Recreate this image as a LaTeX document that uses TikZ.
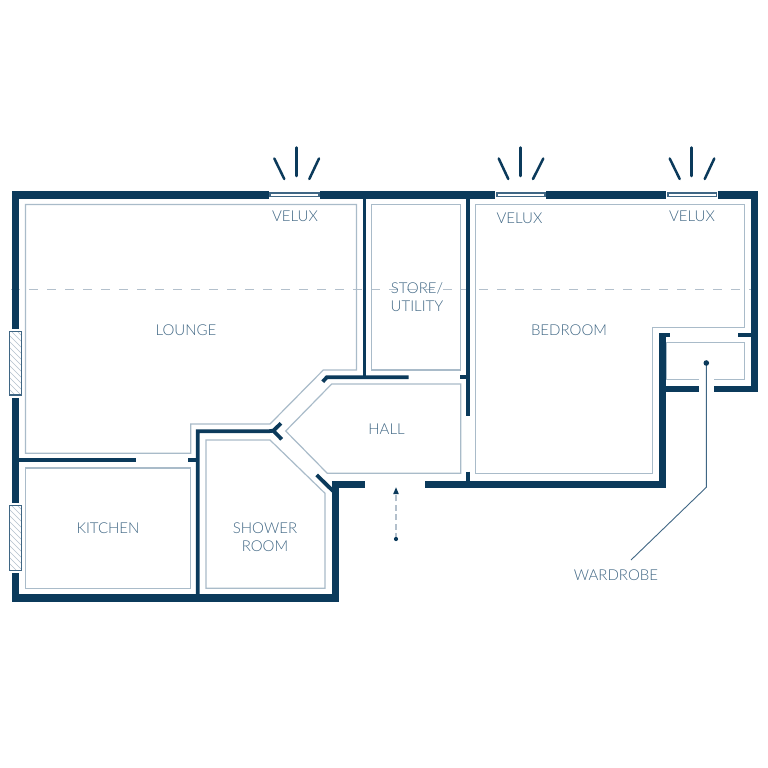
\documentclass[tikz,border=0pt]{standalone}
\usepackage{fontspec}
\setmainfont{Lato}[UprightFont=* Light]
\definecolor{wallc}{HTML}{0B3A5B}
\definecolor{roomc}{HTML}{A9BBC9}
\definecolor{dashc}{HTML}{B3C0CC}
\definecolor{textc}{HTML}{3F6684}
\tikzset{
  x=1pt,y=-1pt,
  wallfill/.style={fill=wallc,draw=none},
  thinwall/.style={draw=wallc,line width=3.8pt},
  roomline/.style={draw=roomc,line width=1.2pt,line join=miter},
  winbox/.style={draw=textc,line width=1.1pt,fill=white},
  ray/.style={draw=wallc,line width=2.5pt,line cap=round},
  ridge/.style={draw=dashc,line width=1.3pt,dash pattern=on 8.7pt off 9.3pt},
  lab/.style={text=textc,font=\fontsize{15}{18}\selectfont,align=center,inner sep=0pt},
  leader/.style={draw=textc,line width=0.9pt},
}
\newcommand{\rays}[7]{%
  \draw[ray] (#2,158.5) -- (#3,179);
  \draw[ray] (#1,147.5) -- (#1,176);
  \draw[ray] (#4,158.5) -- (#5,179);
}
\begin{document}
\begin{tikzpicture}
\useasboundingbox (0,0) rectangle (768,768);
\fill[white] (0,0) rectangle (768,768);
% ridge line
\draw[ridge] (11,289.3) -- (751,289.3);
% room outlines
\draw[roomline] (25.5,204.5) -- (356.5,204.5) -- (356.5,370) -- (323.3,370) -- (270,424) -- (190.7,424) -- (190.7,453.3) -- (25.5,453.3) -- cycle;
\draw[roomline] (25.5,468) rectangle (190.7,588.3);
\draw[roomline] (206,440) -- (270,440) -- (325,493.3) -- (325,588.3) -- (206,588.3) -- cycle;
\draw[roomline] (331.7,384) -- (460.7,384) -- (460.7,473.3) -- (327.3,473.3) -- (285.7,431) -- cycle;
\draw[roomline] (371.3,204.5) rectangle (460.7,370);
\draw[roomline] (475.3,204.5) -- (744.3,204.5) -- (744.3,327.3) -- (652.3,327.3) -- (652.3,473.3) -- (475.3,473.3) -- cycle;
\draw[roomline] (698.7,379.3) -- (666.7,379.3) -- (666.7,342.3) -- (744.3,342.3) -- (744.3,379.3) -- (714,379.3);
% outer walls
\fill[wallfill] (11.7,191) rectangle (269,198.7);
\fill[wallfill] (320,191) rectangle (495,198.7);
\fill[wallfill] (546.3,191) rectangle (666,198.7);
\fill[wallfill] (718,191) rectangle (757.7,198.7);
\fill[wallfill] (11.7,191) rectangle (19.3,329);
\fill[wallfill] (11.7,397.7) rectangle (19.3,503.3);
\fill[wallfill] (11.7,572.7) rectangle (19.3,601.7);
\fill[wallfill] (11.7,594.3) rectangle (338.7,601.7);
\fill[wallfill] (331.7,481) rectangle (338.7,601.7);
\fill[wallfill] (331.7,480.7) rectangle (365.3,488);
\fill[wallfill] (425,480.7) rectangle (666.3,488);
\fill[wallfill] (659,333.3) rectangle (666.3,488);
\fill[wallfill] (659,385.7) rectangle (698.7,392.3);
\fill[wallfill] (714,385.7) rectangle (757.7,392.3);
\fill[wallfill] (750.7,191) rectangle (757.7,392.3);
% inner walls
\draw[thinwall] (659,335.1) -- (670,335.1);
\draw[thinwall] (738.3,335.1) -- (751,335.1);
\draw[thinwall] (364.5,195) -- (364.5,378);
\draw[thinwall] (467.8,195) -- (467.8,416);
\draw[thinwall] (467.8,471.7) -- (467.8,482);
\draw[thinwall] (460,377.3) -- (468,377.3);
\draw[thinwall] (322.7,381.7) -- (326.9,377.2) -- (408.7,377.2);
\draw[thinwall] (197.7,598) -- (197.7,431.3) -- (268,431.3) -- (273.3,430.7);
\draw[thinwall] (281,423.3) -- (273.3,430.7) -- (281.7,439.3);
\draw[thinwall] (19,459.7) -- (136,459.7);
\draw[thinwall] (188.3,459.7) -- (197,459.7);
\draw[thinwall] (316.7,475) -- (333,491);
% velux windows
\draw[winbox] (270,193) rectangle (319,196.7);
\draw[winbox] (497,193) rectangle (545,196.7);
\draw[winbox] (668,193) rectangle (716.3,196.7);
% wall windows
\foreach \ya/\yb in {331.3/395,505.3/570.7}{
  \begin{scope}
    \clip (9.3,\ya) rectangle (21.5,\yb);
    \foreach \k in {-20,-14,...,80}{
      \draw[dashc,line width=0.6pt] (9.3,\ya+\k) -- (21.5,\ya+\k+12.2);
    }
  \end{scope}
  \draw[draw=textc,line width=1.1pt] (9.3,\ya) rectangle (21.5,\yb);
}
% rays
\rays{296.7}{274.3}{284.3}{319}{309.3}{}{}
\rays{520.7}{498.7}{508.3}{543.3}{533}{}{}
\rays{691.7}{669.7}{679.7}{714.3}{704.7}{}{}
% entrance arrow
\coordinate (arrowfoot) at (396,539);
\coordinate (arrowbase) at (396,493.5);
\draw[draw=dashc,line width=1.5pt,dash pattern=on 6pt off 3.4pt] (arrowfoot) -- (arrowbase);
\fill[wallc] (arrowfoot) circle (2.1);
\fill[wallc] (396,487.3) -- (393.2,494) -- (398.8,494) -- cycle;
% wardrobe leader
\coordinate (wardot) at (706.3,363);
\coordinate (wardbend) at (706.3,487.3);
\coordinate (wardend) at (631,560);
\draw[leader] (wardot) -- (wardbend) -- (wardend);
\fill[wallc] (wardot) circle (2.8);
% labels
\node[lab] (velux1) at (295,216) {VELUX};
\node[lab] (velux2) at (519.5,218) {VELUX};
\node[lab] (velux3) at (692,216) {VELUX};
\node[lab] (lounge) at (186,330.5) {LOUNGE};
\node[lab] (kitchen) at (108,528.5) {KITCHEN};
\node[lab] (shower) at (265,537.3) {SHOWER\\ROOM};
\node[lab] (hall) at (386.5,429) {HALL};
\node[lab] (bedroom) at (569,330.5) {BEDROOM};
\node[lab] (store) at (417,297.5) {STORE/\\UTILITY};
\node[lab] (wardrobe) at (616,575) {WARDROBE};
\end{tikzpicture}
\end{document}
